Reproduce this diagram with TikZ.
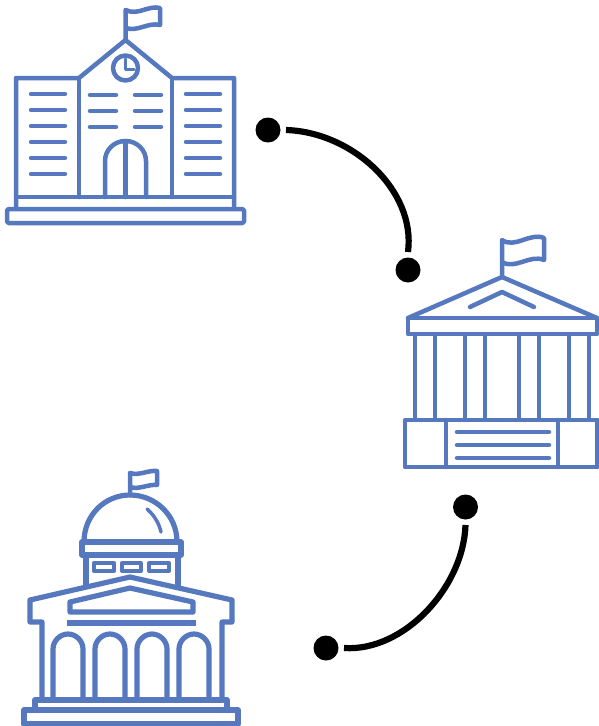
\documentclass[tikz,border=0pt]{standalone}
\definecolor{icon}{HTML}{5578BF}
\tikzset{
  ic/.style={draw=icon,line width=4.5pt,line join=round,line cap=round},
  cap ic/.style={draw=icon,line width=5.2pt,line join=round,line cap=round},
  dot/.style={circle,fill=black,minimum size=25pt,inner sep=0pt,outer sep=5.5pt},
  link/.style={draw=black,line width=6.2pt}
}
\begin{document}
\begin{tikzpicture}[x=1pt,y=-1pt]
\useasboundingbox (0,0) rectangle (599,726);
% school
\begin{scope}[ic]
\draw (16,208) -- (16,78) -- (79,78) -- (125.5,40) -- (172,78) -- (234,78) -- (234,208);
\draw (79,78) -- (79,197);
\draw (172,78) -- (172,197);
\draw (16,197) -- (234,197);
\draw[rounded corners=1.5pt] (7,209) rectangle (244,223);
\draw (125.5,40) -- (125.5,10) .. controls (138,16) and (148,5) .. (160,8) -- (160,25) .. controls (148,22) and (138,32) .. (125.5,28);
\draw (125.5,68) circle[radius=12.5];
\draw[line width=3.2pt] (125.5,59) -- (125.5,69.5) -- (134,69.5);
\foreach \yy in {94,110,126,142,158,174} {
  \draw (31,\yy) -- (65,\yy);
  \draw (186,\yy) -- (220,\yy);
}
\foreach \yy in {95,111,127} {
  \draw (90,\yy) -- (116,\yy);
  \draw (135,\yy) -- (161,\yy);
}
\draw (105,197) -- (105,161) .. controls (105,150) and (114,141) .. (125.5,141) .. controls (137,141) and (146,150) .. (146,161) -- (146,197);
\draw (125.5,141) -- (125.5,197);
\end{scope}
% bank
\begin{scope}[ic]
\draw (502,277) -- (502,240) .. controls (515,249) and (530,232) .. (544,238) -- (544,260) .. controls (530,254) and (515,270) .. (502,262);
\draw (408,318) -- (502,277) -- (597,318);
\draw (408,318) rectangle (597,334);
\draw (470,307) -- (502,292) -- (534,307);
\foreach \xx in {415,435,465,485,519,539,569,589} \draw[line cap=butt] (\xx,334) -- (\xx,420);
\draw (405,420) rectangle (597.5,467);
\draw (446,420) -- (446,467);
\draw (558,420) -- (558,467);
\foreach \yy in {432,445,458} \draw (457,\yy) -- (549,\yy);
\end{scope}
% capitol
\begin{scope}[cap ic]
\draw[line width=4.5pt] (130,495) -- (130,473) .. controls (139,476) and (148,470) .. (157,471) -- (157,485) .. controls (148,484) and (139,490) .. (130,487);
\draw (84,542) .. controls (84,515) and (105,495) .. (130,495) .. controls (155,495) and (177,515) .. (177,542);
\draw[line width=3.5pt] (147,509) .. controls (154,515) and (159,523) .. (161,532);
\draw (82,542) rectangle (181,555);
\draw (86,555) -- (86,586);
\draw (178,555) -- (178,586);
\draw[line width=4pt] (94,563) rectangle (114,571);
\draw[line width=4pt] (122,563) rectangle (141,571);
\draw[line width=4pt] (149,563) rectangle (169,571);
\draw (42,698) -- (42,622) -- (30,622) -- (30,600) -- (130,577) -- (232,600) -- (232,622) -- (222,622) -- (222,698);
\draw (130,588) -- (70,602) -- (70,612) -- (193,612) -- (193,602) -- cycle;
\draw[line cap=butt] (67,623) -- (196,623);
\foreach \xx in {53,95,137,179} {
  \draw (\xx,699) -- (\xx,649) .. controls (\xx,641) and (\xx+7,634) .. (\xx+15,634) .. controls (\xx+23,634) and (\xx+30,641) .. (\xx+30,649) -- (\xx+30,699);
}
\draw (35,710) -- (35,700) -- (227,700) -- (227,710);
\draw (24,710) rectangle (238,724);
\end{scope}
% connectors
\node[dot] (d1) at (268,130) {};
\node[dot] (d2) at (408,270) {};
\node[dot] (d3) at (465.5,507) {};
\node[dot] (d4) at (326,648) {};
\draw[link] (d1.east) .. controls +(66,2) and +(8,-62) .. (d2.north);
\draw[link] (d3.south) .. controls +(-2,62) and +(60,4) .. (d4.east);
\end{tikzpicture}
\end{document}
